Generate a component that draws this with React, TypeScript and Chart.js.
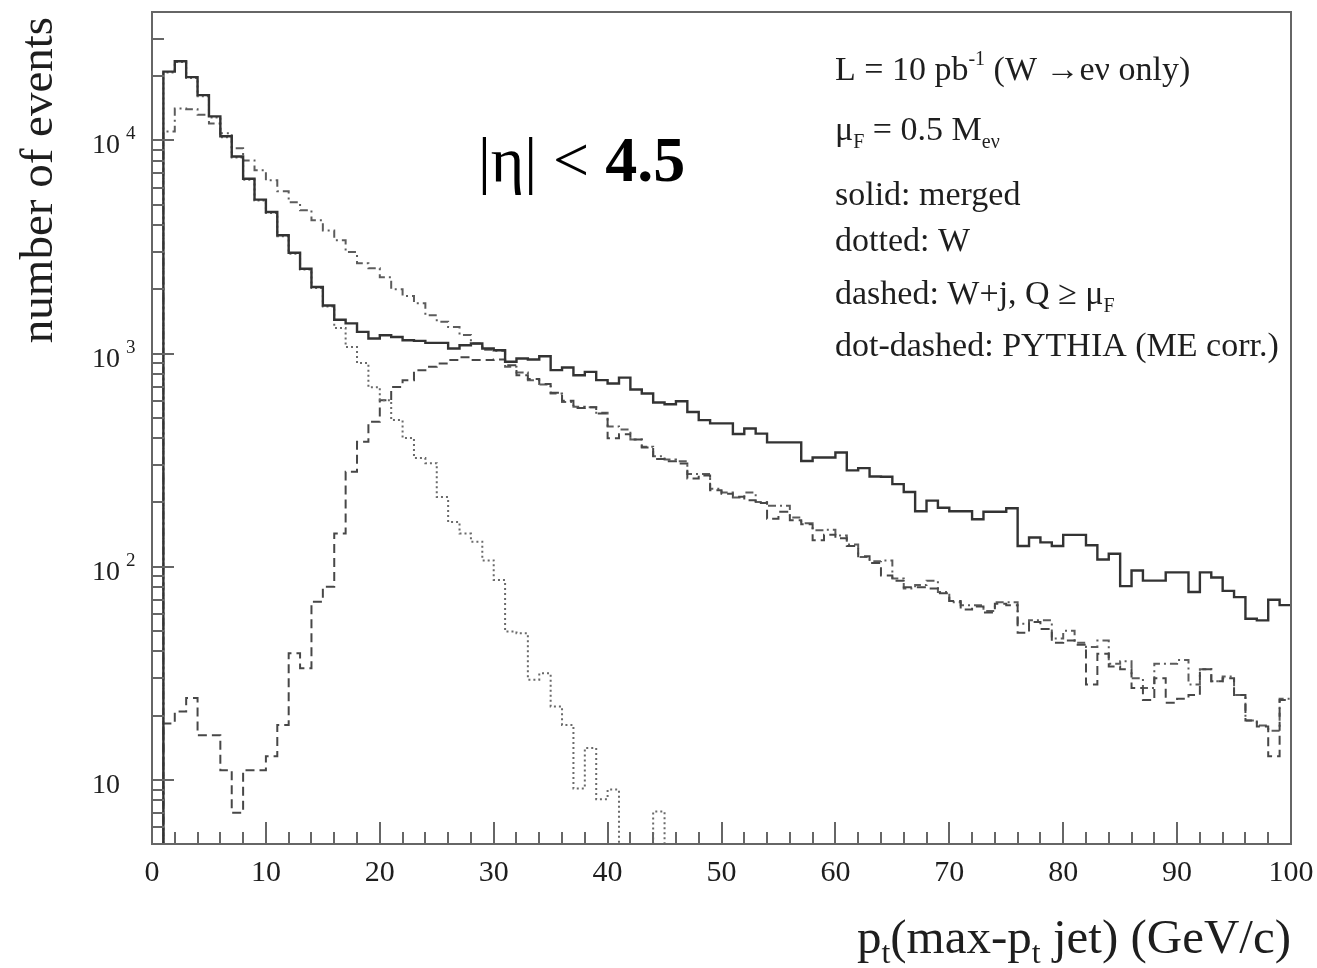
import React, { useEffect, useRef } from 'react';
import { Chart, registerables } from 'chart.js';

Chart.register(...registerables);

// 1 GeV/c bins from 0 to 100 GeV/c (bin i spans [i, i+1])
const binEdges: number[] = Array.from({ length: 101 }, (_, i) => i);

// merged sample (solid)
const merged: number[] = [
  0, 21000, 23500, 19800, 16300, 12950, 10450, 8400, 6600, 5270,
  4610, 3590, 2970, 2500, 2050, 1680, 1440, 1385, 1263, 1175,
  1218, 1196, 1154, 1146, 1122, 1122, 1055, 1094, 1114, 1055,
  1035, 915, 948, 937, 971, 836, 860, 790, 820, 750,
  723, 771, 678, 649, 589, 578, 597, 532, 487, 470,
  470, 419, 445, 421, 383, 383, 383, 313, 325, 325,
  343, 283, 290, 265, 264, 244, 224, 182, 204, 189,
  182, 182, 167, 181, 181, 188, 125, 137, 130, 125,
  141, 141, 126, 108, 115, 81, 96, 86, 86, 94,
  94, 76, 94, 89, 77, 72, 57, 56, 70, 66,
];

// W only (dotted)
const wOnly: number[] = [
  0, 20800, 23300, 19600, 16100, 12800, 10350, 8300, 6530, 5220,
  4560, 3550, 2940, 2475, 2030, 1660, 1316, 1072, 902, 695,
  604, 487, 401, 323, 306, 212, 162, 143, 131, 107,
  86.5, 49.6, 48.7, 29.5, 31.6, 22.1, 18.1, 9.1, 14.1, 8.1,
  9.0, 0, 0, 0, 7.1, 0, 0, 0, 0, 0,
  0, 0, 0, 0, 0, 0, 0, 0, 0, 0,
  0, 0, 0, 0, 0, 0, 0, 0, 0, 0,
  0, 0, 0, 0, 0, 0, 0, 0, 0, 0,
  0, 0, 0, 0, 0, 0, 0, 0, 0, 0,
  0, 0, 0, 0, 0, 0, 0, 0, 0, 0,
];

// W + jet, Q >= muF (dashed)
const wPlusJet: number[] = [
  0, 18.4, 20.9, 24.2, 16.2, 16.2, 11.1, 7.0, 11.1, 11.1,
  12.9, 18.1, 39.3, 33.4, 68.5, 80.6, 143, 279, 385, 478,
  604, 697, 750, 835, 866, 898, 931, 960, 931, 931,
  937, 880, 790, 760, 720, 655, 600, 555, 559, 523,
  400, 418, 395, 362, 320, 312, 305, 259, 268, 228,
  220, 213, 205, 199, 168, 181, 165, 158, 133, 141,
  136, 125, 112, 104, 91, 86, 80, 80, 79, 75,
  69, 63, 65, 61, 67, 66, 49, 55, 51, 44,
  45, 43, 28, 39, 34, 33, 27, 23.7, 30, 23,
  24, 25, 33, 29, 30, 25, 19, 17.8, 12.9, 23.7,
];

// PYTHIA with ME corrections (dot-dashed)
const pythia: number[] = [
  0, 11000, 14100, 14000, 13200, 12000, 10800, 9170, 8050, 7230,
  6490, 5770, 5120, 4700, 4220, 3780, 3400, 2990, 2650, 2510,
  2280, 2000, 1860, 1720, 1510, 1410, 1330, 1220, 1114, 1040,
  1030, 866, 815, 750, 715, 649, 593, 562, 559, 527,
  455, 440, 395, 365, 330, 318, 312, 272, 272, 232,
  223, 211, 223, 201, 193, 193, 170, 160, 148, 149,
  140, 127, 111, 106, 107, 88, 79, 82, 86, 76,
  68, 66, 66, 62, 68, 68, 54, 56, 56, 46,
  50, 44, 42, 45, 35, 36, 30, 27, 35, 35,
  36.5, 28, 33, 29, 30.5, 25, 19, 18, 17, 24,
];

// axis ranges and tick labels
const X_MIN = 0;
const X_MAX = 100;
const Y_MIN = 5;
const Y_MAX = 40000;
const xTickValues: number[] = [0, 10, 20, 30, 40, 50, 60, 70, 80, 90, 100];
const xTickLabels: string[] = ['0', '10', '20', '30', '40', '50', '60', '70', '80', '90', '100'];
const yDecades: number[] = [10, 100, 1000, 10000];
const yDecadeExponents: string[] = ['', '2', '3', '4'];

// empty bins are sent below the visible range so the step edges drop out of the frame
const EMPTY_FLOOR = 1;

function histogram(counts: number[]) {
  const pts = counts.map((c, i) => ({ x: binEdges[i], y: c > 0 ? c : EMPTY_FLOOR }));
  pts.push({ x: binEdges[counts.length], y: pts[pts.length - 1].y });
  return pts;
}

const SERIF = '"Liberation Serif", "Times New Roman", serif';
const INK = '#1e1e1e';
const FRAME = '#666666';

type Seg = { t: string; size: number; dy?: number; bold?: boolean };

function drawRich(ctx: CanvasRenderingContext2D, x: number, y: number, segs: Seg[], align: 'left' | 'right') {
  const widths = segs.map((s) => {
    ctx.font = `${s.bold ? 'bold ' : ''}${s.size}px ${SERIF}`;
    return ctx.measureText(s.t).width;
  });
  const total = widths.reduce((a, b) => a + b, 0);
  let cx = align === 'right' ? x - total : x;
  ctx.textAlign = 'left';
  ctx.textBaseline = 'alphabetic';
  segs.forEach((s, i) => {
    ctx.font = `${s.bold ? 'bold ' : ''}${s.size}px ${SERIF}`;
    ctx.fillText(s.t, cx, y + (s.dy || 0));
    cx += widths[i];
  });
}

const frameAndLabels = {
  id: 'frameAndLabels',
  afterDatasetsDraw(chart: any) {
    const { ctx, chartArea: a } = chart;
    const xs = chart.scales.x;
    const ys = chart.scales.y;
    ctx.save();

    // frame
    ctx.strokeStyle = FRAME;
    ctx.lineWidth = 2;
    ctx.strokeRect(a.left, a.top, a.right - a.left, a.bottom - a.top);

    // inward ticks
    ctx.beginPath();
    for (let v = X_MIN; v <= X_MAX; v += 2) {
      const px = Math.round(xs.getPixelForValue(v));
      const len = v % 10 === 0 ? 22 : 12;
      ctx.moveTo(px, a.bottom);
      ctx.lineTo(px, a.bottom - len);
    }
    for (let d = 1; d <= Y_MAX; d *= 10) {
      for (let k = 1; k <= 9; k++) {
        const v = k * d;
        if (v < Y_MIN || v > Y_MAX) continue;
        const py = Math.round(ys.getPixelForValue(v));
        const len = k === 1 ? 22 : 12;
        ctx.moveTo(a.left, py);
        ctx.lineTo(a.left + len, py);
      }
    }
    ctx.stroke();

    ctx.fillStyle = INK;

    // x tick labels
    ctx.font = `30px ${SERIF}`;
    ctx.textAlign = 'center';
    ctx.textBaseline = 'alphabetic';
    xTickValues.forEach((v, i) => {
      ctx.fillText(xTickLabels[i], xs.getPixelForValue(v), a.bottom + 37);
    });

    // y decade labels
    yDecades.forEach((v, i) => {
      const py = ys.getPixelForValue(v);
      ctx.font = `28px ${SERIF}`;
      ctx.textAlign = 'right';
      ctx.fillText('10', 120, py + 13);
      if (yDecadeExponents[i]) {
        ctx.font = `19px ${SERIF}`;
        ctx.textAlign = 'left';
        ctx.fillText(yDecadeExponents[i], 126, py - 1);
      }
    });

    // y title
    ctx.save();
    ctx.translate(52, 180);
    ctx.rotate(-Math.PI / 2);
    ctx.font = `47px ${SERIF}`;
    ctx.textAlign = 'center';
    ctx.textBaseline = 'alphabetic';
    ctx.fillText('number of events', 0, 0);
    ctx.restore();

    // x title
    drawRich(ctx, a.right, 953, [
      { t: 'p', size: 49 },
      { t: 't', size: 32, dy: 10 },
      { t: '(max-p', size: 49 },
      { t: 't', size: 32, dy: 10 },
      { t: ' jet) (GeV/c)', size: 49 },
    ], 'right');

    // rapidity cut
    ctx.fillStyle = '#000';
    drawRich(ctx, 478, 181, [
      { t: '|η| < ', size: 64 },
      { t: '4.5', size: 64, bold: true },
    ], 'left');

    // run conditions and line-style key
    ctx.fillStyle = INK;
    const kx = 835;
    drawRich(ctx, kx, 80, [
      { t: 'L = 10 pb', size: 34 },
      { t: '-1', size: 20, dy: -15 },
      { t: ' (W →eν only)', size: 34 },
    ], 'left');
    drawRich(ctx, kx, 140, [
      { t: 'μ', size: 34 },
      { t: 'F', size: 20, dy: 8 },
      { t: ' = 0.5 M', size: 34 },
      { t: 'eν', size: 20, dy: 8 },
    ], 'left');
    drawRich(ctx, kx, 205, [{ t: 'solid: merged', size: 34 }], 'left');
    drawRich(ctx, kx, 251, [{ t: 'dotted: W', size: 34 }], 'left');
    drawRich(ctx, kx, 304, [
      { t: 'dashed: W+j, Q ≥ μ', size: 34 },
      { t: 'F', size: 20, dy: 8 },
    ], 'left');
    drawRich(ctx, kx, 356, [{ t: 'dot-dashed: PYTHIA (ME corr.)', size: 34 }], 'left');

    ctx.restore();
  },
};

export default function App() {
  const canvasRef = useRef<HTMLCanvasElement>(null);

  useEffect(() => {
    const canvas = canvasRef.current;
    if (!canvas) return;
    const chart = new Chart(canvas, {
      type: 'line',
      data: {
        datasets: [
          {
            label: 'merged',
            data: histogram(merged),
            borderColor: '#333333',
            borderWidth: 2.4,
            stepped: 'before',
            pointRadius: 0,
            fill: false,
          },
          {
            label: 'W',
            data: histogram(wOnly),
            borderColor: '#6a6a6a',
            borderWidth: 2,
            borderDash: [2, 3],
            stepped: 'before',
            pointRadius: 0,
            fill: false,
          },
          {
            label: 'W+j, Q ≥ μF',
            data: histogram(wPlusJet),
            borderColor: '#474747',
            borderWidth: 2,
            borderDash: [9, 5],
            stepped: 'before',
            pointRadius: 0,
            fill: false,
          },
          {
            label: 'PYTHIA (ME corr.)',
            data: histogram(pythia),
            borderColor: '#5c5c5c',
            borderWidth: 2,
            borderDash: [8, 4, 2, 4],
            stepped: 'before',
            pointRadius: 0,
            fill: false,
          },
        ],
      },
      options: {
        responsive: false,
        animation: false,
        devicePixelRatio: 1,
        layout: { padding: { left: 152, top: 12, right: 26, bottom: 124 } },
        plugins: {
          legend: { display: false },
          tooltip: { enabled: false },
        },
        scales: {
          x: { type: 'linear', min: X_MIN, max: X_MAX, display: false },
          y: { type: 'logarithmic', min: Y_MIN, max: Y_MAX, display: false },
        },
      },
      plugins: [frameAndLabels],
    });
    return () => chart.destroy();
  }, []);

  return (
    <div style={{ position: 'absolute', left: 0, top: 0, width: 1317, height: 968, background: '#ffffff' }}>
      <canvas ref={canvasRef} width={1317} height={968} style={{ display: 'block' }} />
    </div>
  );
}
